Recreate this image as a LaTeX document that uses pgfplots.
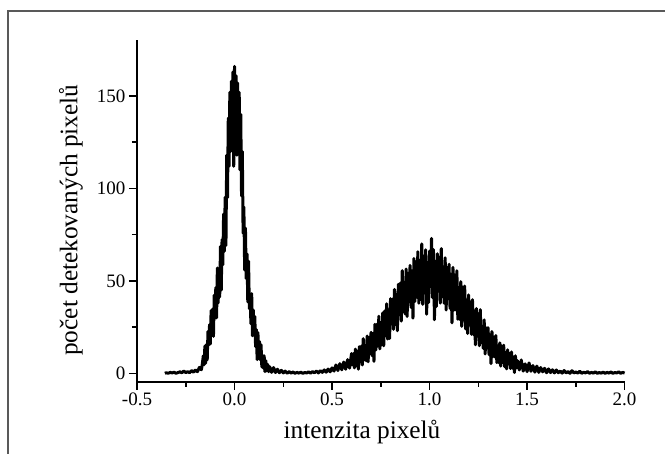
\documentclass[border=0pt]{standalone}
\usepackage{fontspec}
\setmainfont{Liberation Serif}
\usepackage{pgfplots}
\pgfplotsset{compat=1.18}
\begin{document}
\begin{tikzpicture}
\useasboundingbox (0pt,0pt) rectangle (665pt,454pt);
\fill[white] (0pt,0pt) rectangle (665pt,454pt);
\draw[line width=1.3pt, black!65] (8pt,0pt) -- (8pt,443pt) -- (665pt,443pt);
\begin{axis}[
  at={(137pt,72.3pt)}, anchor=south west,
  scale only axis, width=487.6pt, height=341.7pt,
  xmin=-0.5, xmax=2.0, ymin=-4.54, ymax=180.3,
  axis x line=bottom, axis y line=left,
  axis line style={-, line width=1.7pt, black},
  tick align=outside,
  major tick length=8pt, minor tick length=5pt,
  every tick/.style={black, line width=1.5pt},
  minor tick num=1,
  xtick={-0.5,0,0.5,1,1.5,2},
  xticklabels={-0.5,0.0,0.5,1.0,1.5,2.0},
  ytick={0,50,100,150},
  yticklabels={0,50,100,150},
  tick label style={font=\fontsize{19}{21}\selectfont},
  xlabel={intenzita pixelů},
  ylabel={počet detekovaných pixelů},
  every axis x label/.style={at={(axis description cs:0.4614,-0.166)}, anchor=base, font=\fontsize{25.3}{28}\selectfont},
  every axis y label/.style={at={(axis description cs:-0.1224,0.473)}, rotate=90, anchor=base, font=\fontsize{25.3}{28}\selectfont},
  clip=false,
]
\addplot[black, line width=3pt, line join=round, mark=none] coordinates {
(-0.357,0) (-0.35,0.3) (-0.34,0) (-0.33,0.5) (-0.32,0.2) (-0.31,0.6) (-0.30,0) (-0.29,0.4) (-0.28,0.8) (-0.27,0.3)
(-0.26,1.2) (-0.25,0.4) (-0.24,0.9) (-0.23,0.3) (-0.22,1.5) (-0.21,0.6) (-0.20,1.8) (-0.19,0.9) (-0.18,3.2) (-0.17,1.9) (-0.165,5.1)
(-0.160,9.5) (-0.156,4.6) (-0.152,14.7) (-0.148,5.5) (-0.144,15.6) (-0.140,7.3) (-0.136,22.7) (-0.132,15.3) (-0.128,26.3) (-0.124,15.9)
(-0.120,34.0) (-0.116,20.4) (-0.112,34.8) (-0.108,20.0) (-0.104,42.3) (-0.100,29.7) (-0.096,46.4) (-0.092,30.0) (-0.088,57.0) (-0.084,38.1)
(-0.080,53.0) (-0.076,41.3) (-0.072,68.6) (-0.068,45.0) (-0.064,72.3) (-0.060,58.7) (-0.056,86.2) (-0.052,66.0) (-0.048,95.2) (-0.044,69.2)
(-0.040,118.0) (-0.036,95.0) (-0.032,138.0) (-0.028,112.0) (-0.024,152.0) (-0.020,120.0) (-0.016,158.0) (-0.012,126.0) (-0.008,163.0) (-0.004,112.0)
(0.000,166.0) (0.004,128.0) (0.008,161.0) (0.012,118.0) (0.016,157.0) (0.020,124.0) (0.024,152.0) (0.028,110.0) (0.032,140.0) (0.036,96.0)
(0.040,120.0) (0.044,75.8) (0.048,89.9) (0.052,55.9) (0.056,78.5) (0.060,51.2) (0.064,64.6) (0.068,38.6) (0.072,60.6) (0.076,35.0)
(0.080,42.4) (0.084,26.8) (0.088,43.1) (0.092,20.3) (0.096,34.3) (0.100,20.5) (0.104,30.7) (0.108,14.4) (0.112,23.7) (0.116,7.4)
(0.120,22.0) (0.124,9.0) (0.128,17.2) (0.132,7.3) (0.136,15.5) (0.140,3.4) (0.144,9.6) (0.148,2.7) (0.152,9.5) (0.156,0.9)
(0.160,6.9) (0.165,1.3) (0.170,4.8) (0.175,0.9) (0.180,3.6) (0.19,0.5) (0.20,3.1) (0.21,0.4) (0.22,2.2) (0.23,0.3)
(0.24,1.6) (0.25,0.2) (0.26,1.2) (0.27,0) (0.28,0.9) (0.29,0.1) (0.30,0.7) (0.31,0) (0.32,0.5) (0.33,0.1)
(0.34,0.6) (0.35,0) (0.36,0.4) (0.37,0.2) (0.38,0.8) (0.39,0.1) (0.40,0.9) (0.41,0.3) (0.42,1.2) (0.43,0.2)
(0.44,1.4) (0.45,0.5) (0.46,1.8) (0.47,0.6) (0.48,2.3) (0.49,0.8) (0.50,2.9) (0.51,1.2) (0.52,4.5) (0.53,1.5)
(0.54,5.2) (0.55,1.9) (0.56,6.1) (0.57,2.2) (0.58,7.4) (0.59,2.8)
(0.600,10.7) (0.605,4.5) (0.610,10.6) (0.615,2.9) (0.620,13.1) (0.625,4.0) (0.630,11.8) (0.635,2.2) (0.640,14.4) (0.645,6.3)
(0.650,14.7) (0.655,4.5) (0.660,18.7) (0.665,7.3) (0.670,14.7) (0.675,6.8) (0.680,20.2) (0.685,6.2) (0.690,19.4) (0.695,10.8)
(0.700,22.2) (0.705,9.5) (0.710,21.5) (0.715,6.5) (0.720,26.5) (0.725,12.7) (0.730,26.5) (0.735,14.8) (0.740,30.9) (0.745,13.2)
(0.750,27.0) (0.755,15.4) (0.760,32.7) (0.765,14.9) (0.770,33.7) (0.775,20.3) (0.780,37.6) (0.785,18.5) (0.790,34.3) (0.795,18.8)
(0.800,40.4) (0.805,26.8) (0.810,40.1) (0.815,23.8) (0.820,45.4) (0.825,26.4) (0.830,42.6) (0.835,23.0) (0.840,48.1) (0.845,31.8)
(0.850,48.8) (0.855,28.2) (0.860,55.5) (0.865,33.3) (0.870,47.0) (0.875,32.1) (0.880,56.4) (0.885,30.7) (0.890,54.1) (0.895,38.8)
(0.900,58.4) (0.905,35.7) (0.910,55.4) (0.915,29.8) (0.920,62.1) (0.925,38.9) (0.930,60.4) (0.935,41.2) (0.940,65.8) (0.945,37.9)
(0.950,58.4) (0.955,40.0) (0.960,70.0) (0.965,37.3) (0.970,63.4) (0.975,43.5) (0.980,66.8) (0.985,32.0) (0.990,59.9) (0.995,38.3)
(1.000,66.1) (1.005,47.0) (1.010,73.0) (1.015,40.9) (1.020,66.9) (1.025,29.0) (1.030,60.6) (1.035,36.1) (1.040,64.7) (1.045,44.4)
(1.050,62.8) (1.055,38.0) (1.060,67.5) (1.065,41.5) (1.070,55.1) (1.075,37.9) (1.080,62.5) (1.085,34.2) (1.090,57.3) (1.095,40.4)
(1.100,59.0) (1.105,35.1) (1.110,53.5) (1.115,27.3) (1.120,57.3) (1.125,34.2) (1.130,53.2) (1.135,34.2) (1.140,55.5) (1.145,29.2)
(1.150,46.3) (1.155,29.2) (1.160,49.6) (1.165,25.4) (1.170,46.6) (1.175,28.9) (1.180,47.2) (1.185,24.0) (1.190,39.6) (1.195,21.5)
(1.200,42.4) (1.205,26.9) (1.210,38.4) (1.215,21.1) (1.220,39.8) (1.225,20.9) (1.230,33.8) (1.235,15.4) (1.240,35.1) (1.245,20.1)
(1.250,32.2) (1.255,14.9) (1.260,34.4) (1.265,16.6) (1.270,25.2) (1.275,13.5) (1.280,28.9) (1.285,10.5) (1.290,24.6) (1.295,13.7)
(1.300,24.7) (1.305,10.1) (1.310,20.8) (1.315,5.2) (1.320,22.6) (1.325,9.0) (1.330,19.6) (1.335,8.8) (1.340,20.4) (1.345,5.8)
(1.350,14.8) (1.355,5.7) (1.360,16.5) (1.365,3.9) (1.370,14.9) (1.375,5.9) (1.380,15.2) (1.385,3.5) (1.390,11.3) (1.395,2.4)
(1.400,12.7) (1.405,5.2) (1.410,10.8) (1.415,2.6) (1.420,11.6) (1.425,2.8) (1.430,8.9) (1.435,0.4) (1.440,9.5) (1.445,2.9)
(1.45,6.9) (1.46,1.8) (1.47,7.2) (1.48,1.2) (1.49,5.1) (1.50,0.9) (1.51,5.6) (1.52,1.1) (1.53,4.2) (1.54,0.6)
(1.55,3.9) (1.56,0.5) (1.57,3.1) (1.58,0.8) (1.59,2.7) (1.60,0.3) (1.61,2.4) (1.62,0.4) (1.63,1.9) (1.64,0.2)
(1.65,1.8) (1.66,0.3) (1.67,1.2) (1.68,0.1) (1.69,1.5) (1.70,0.2) (1.71,0.9) (1.72,0) (1.73,1.4) (1.74,0.2)
(1.75,0.7) (1.76,0.1) (1.77,1.1) (1.78,0) (1.79,0.6) (1.80,0.2) (1.81,0.9) (1.82,0) (1.83,0.5) (1.84,0.1)
(1.85,0.8) (1.86,0) (1.87,0.4) (1.88,0.1) (1.89,0.6) (1.90,0) (1.91,0.5) (1.92,0.1) (1.93,0.7) (1.94,0)
(1.95,0.4) (1.96,0.2) (1.97,0.8) (1.98,0) (1.99,0.5) (2.00,0.1)
};
\end{axis}
\end{tikzpicture}
\end{document}
